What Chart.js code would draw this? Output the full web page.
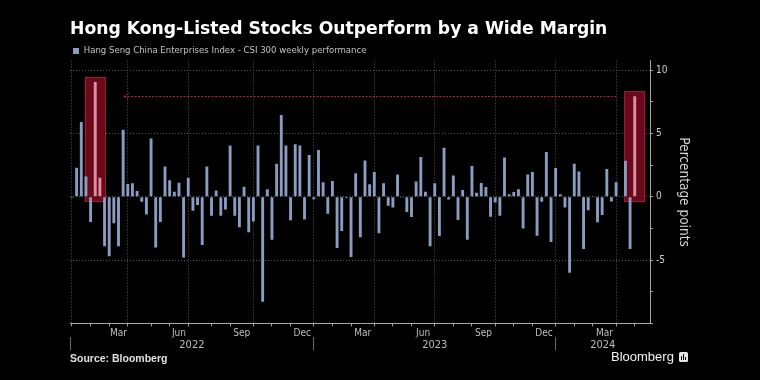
<!DOCTYPE html>
<html>
<head>
<meta charset="utf-8">
<script src="https://cdn.jsdelivr.net/npm/chart.js@4.4.1/dist/chart.umd.min.js"></script>
<style>
  html, body { margin:0; padding:0; background:#000; }
  #box { position:relative; width:760px; height:380px; background:#000; }
  canvas { display:block; }
</style>
</head>
<body>
<div id="box"><canvas id="chart" width="760" height="380"></canvas></div>
<script>
// ---------------- data ----------------
const weeks = [
'2021-12-31',
'2022-01-07','2022-01-14','2022-01-21','2022-01-28',
'2022-02-04','2022-02-11','2022-02-18','2022-02-25',
'2022-03-04','2022-03-11','2022-03-18','2022-03-25',
'2022-04-01','2022-04-08','2022-04-15','2022-04-22','2022-04-29',
'2022-05-06','2022-05-13','2022-05-20','2022-05-27',
'2022-06-03','2022-06-10','2022-06-17','2022-06-24',
'2022-07-01','2022-07-08','2022-07-15','2022-07-22','2022-07-29',
'2022-08-05','2022-08-12','2022-08-19','2022-08-26',
'2022-09-02','2022-09-09','2022-09-16','2022-09-23','2022-09-30',
'2022-10-07','2022-10-14','2022-10-21','2022-10-28',
'2022-11-04','2022-11-11','2022-11-18','2022-11-25',
'2022-12-02','2022-12-09','2022-12-16','2022-12-23','2022-12-30',
'2023-01-06','2023-01-13','2023-01-20','2023-01-27',
'2023-02-03','2023-02-10','2023-02-17','2023-02-24',
'2023-03-03','2023-03-10','2023-03-17','2023-03-24','2023-03-31',
'2023-04-07','2023-04-14','2023-04-21','2023-04-28',
'2023-05-05','2023-05-12','2023-05-19','2023-05-26',
'2023-06-02','2023-06-09','2023-06-16','2023-06-23','2023-06-30',
'2023-07-07','2023-07-14','2023-07-21','2023-07-28',
'2023-08-04','2023-08-11','2023-08-18','2023-08-25',
'2023-09-01','2023-09-08','2023-09-15','2023-09-22','2023-09-29',
'2023-10-06','2023-10-13','2023-10-20','2023-10-27',
'2023-11-03','2023-11-10','2023-11-17','2023-11-24',
'2023-12-01','2023-12-08','2023-12-15','2023-12-22','2023-12-29',
'2024-01-05','2024-01-12','2024-01-19','2024-01-26',
'2024-02-02','2024-02-09','2024-02-16','2024-02-23',
'2024-03-01','2024-03-08','2024-03-15','2024-03-22','2024-03-29',
'2024-04-05','2024-04-12','2024-04-19','2024-04-26'
];
const spread = [
 -0.08, 2.3, 5.9, 1.6, -2.0, 9.07, 1.5, -3.9, -4.7, -2.1,
 -3.9, 5.3, 1.0, 1.06, 0.45, -0.4, -1.4, 4.6, -4.0, -2.0,
 2.4, 1.3, 0.4, 1.1, -4.8, 1.5, -1.1, -0.65, -3.8, 2.4,
 -1.5, 0.5, -1.5, -1.0, 4.05, -1.5, -2.4, 0.8, -2.8, -1.95,
 4.05, -8.3, 0.6, -3.4, 2.6, 6.45, 4.05, -1.85, 4.15, 4.05,
 -1.8, 3.3, -0.2, 3.7, 1.14, -1.35, 1.24, -4.05, -2.7, -0.1,
 -4.76, 1.85, -3.2, 2.86, 0.98, 1.96, -2.88, 1.07, -0.7, -0.85,
 1.76, -0.05, -1.2, -1.6, 1.2, 3.15, 0.4, -3.9, 1.07, -3.1,
 3.87, -0.22, 1.67, -1.84, 0.54, -3.4, 2.43, 0.32, 1.08, 0.77,
 -1.58, -0.46, -1.5, 3.1, 0.19, 0.37, 0.6, -2.5, 1.76, 1.96,
 -3.07, -0.4, 3.53, -3.57, 2.27, 0.19, -0.85, -6.0, 2.6, 1.99,
 -4.12, -1.07, 0.03, -2.02, -1.43, 2.2, -0.37, 1.14, 0.05, 2.85,
 -4.12, 7.94
];
const highlightWeeks = ['2022-02-04', '2024-04-26'];
const monthNames = ['Jan','Feb','Mar','Apr','May','Jun','Jul','Aug','Sep','Oct','Nov','Dec'];
const shownMonths = ['Mar','Jun','Sep','Dec'];
const years = ['2022','2023','2024'];
const yTicks = [-10,-7.5,-5,-2.5,0,2.5,5,7.5,10];
const yLabelled = [10,5,0,-5];
const axisStart = '2021-12-28';
const axisEnd = '2024-05-19';
const yMin = -10, yMax = 10.75;

// ---------------- helpers ----------------
const FONT = '"Liberation Sans", Arial, sans-serif';
const FONT_C = '"DejaVu Sans Condensed", "DejaVu Sans", sans-serif';
const FONT_T = '"DejaVu Sans", sans-serif';
const dayOf = s => Date.UTC(+s.slice(0,4), +s.slice(5,7)-1, +s.slice(8,10)) / 864e5;
const xMin = dayOf(axisStart), xMax = dayOf(axisEnd);
const hiDays = highlightWeeks.map(dayOf);
const points = weeks.map((w,i) => ({x: dayOf(w), y: spread[i]}));

// month boundaries = last weekly observation of each month
const monthEnds = [];
weeks.forEach((w,i) => {
  const n = weeks[i+1];
  if (!n || n.slice(0,7) !== w.slice(0,7)) monthEnds.push({v: dayOf(w), name: monthNames[+w.slice(5,7)-1]});
});
const xTickVals = [], xLabelAt = new Map(), xMarkAt = new Set(), xGridAt = new Set();
monthEnds.forEach((e,i) => {
  xTickVals.push(e.v); xMarkAt.add(e.v);
  if (shownMonths.includes(e.name)) xGridAt.add(e.v);
  if (i > 0 && shownMonths.includes(e.name)) {
    const c = (monthEnds[i-1].v + e.v) / 2;
    xTickVals.push(c); xLabelAt.set(c, e.name);
  }
});
xTickVals.sort((a,b) => a-b);

const decEnds = monthEnds.filter(e => e.name === 'Dec' && e.v > xMin + 7).map(e => e.v);
const yearStarts = [xMin].concat(decEnds);
const yearTickVals = [], yearLabelAt = new Map(), yearSepAt = new Set();
years.forEach((y,i) => {
  const s = yearStarts[i], e = (i+1 < yearStarts.length) ? yearStarts[i+1] : xMax;
  yearSepAt.add(s); yearTickVals.push(s);
  const c = (s + e) / 2; yearTickVals.push(c); yearLabelAt.set(c, y);
});

const GRID = '#575757';
const CLEAR = 'rgba(0,0,0,0)';
const BAR = '#8b9cc0';
const PINK = '#dc8fa6';

function barColor(ctx) {
  if (ctx.type !== 'data' || !ctx.raw) return BAR;
  const r = ctx.raw;
  return (r.y > 0 && hiDays.some(d => Math.abs(r.x - d) <= 7)) ? PINK : BAR;
}

const bgPlugin = {
  id: 'bg',
  beforeDraw(chart) { const c = chart.ctx; c.save(); c.fillStyle = '#000'; c.fillRect(0,0,chart.width,chart.height); c.restore(); }
};

const highlightPlugin = {
  id: 'highlight',
  beforeDatasetsDraw(chart) {
    const {ctx, scales:{x, y}} = chart;
    ctx.save();
    hiDays.forEach((d,k) => {
      const v = spread[weeks.indexOf(highlightWeeks[k])];
      const l = x.getPixelForValue(d - 16), r = x.getPixelForValue(d + 16);
      const t = y.getPixelForValue(v + 0.4), b = y.getPixelForValue(-0.42);
      ctx.fillStyle = '#6a0a1a';
      ctx.fillRect(l, t, r - l, b - t);
      ctx.setLineDash([1,1]); ctx.strokeStyle = '#c23448'; ctx.lineWidth = 1;
      ctx.strokeRect(Math.round(l)+0.5, Math.round(t)+0.5, Math.round(r-l)-1, Math.round(b-t)-1);
      ctx.setLineDash([]);
    });
    ctx.restore();
  },
  afterDatasetsDraw(chart) {
    const {ctx, scales:{x, y}} = chart;
    const last = spread[weeks.indexOf(highlightWeeks[1])];
    const xr = x.getPixelForValue(hiDays[1] - 28);
    const xl = x.getPixelForValue(hiDays[0] + 43);
    const ya = Math.round(y.getPixelForValue(last)) + 0.5;
    ctx.save();
    ctx.strokeStyle = '#c42234'; ctx.lineWidth = 1; ctx.setLineDash([2,1.5]);
    ctx.beginPath(); ctx.moveTo(xr, ya); ctx.lineTo(xl, ya); ctx.stroke();
    ctx.setLineDash([1.5,1]);
    ctx.beginPath(); ctx.moveTo(xl + 5, ya - 3.5); ctx.lineTo(xl, ya); ctx.lineTo(xl + 5, ya + 3.5); ctx.stroke();
    ctx.restore();
  }
};

const logoPlugin = {
  id: 'logo',
  afterDraw(chart) {
    const c = chart.ctx;
    c.save();
    c.fillStyle = '#f2f2f2'; c.font = '13px ' + FONT; c.textBaseline = 'middle'; c.textAlign = 'left';
    c.fillText('Bloomberg', 611, 357);
    c.fillStyle = '#e6e6e6';
    c.beginPath(); c.roundRect(679, 352, 9, 10, 1.5); c.fill();
    c.fillStyle = '#000';
    c.fillRect(681, 356, 1, 4); c.fillRect(683, 354, 1, 6); c.fillRect(685, 357, 1, 3);
    c.restore();
  }
};

new Chart(document.getElementById('chart'), {
  type: 'bar',
  data: {
    datasets: [{
      label: 'Hang Seng China Enterprises Index - CSI 300 weekly performance',
      data: points,
      backgroundColor: barColor,
      borderWidth: 0,
      barPercentage: 0.62,
      categoryPercentage: 1
    }]
  },
  options: {
    responsive: false,
    animation: false,
    devicePixelRatio: 1,
    layout: { padding: { top: 19, left: 70, right: 68, bottom: 14 } },
    plugins: {
      title: {
        display: true, align: 'start', color: '#ffffff',
        text: 'Hong Kong-Listed Stocks Outperform by a Wide Margin',
        font: { family: FONT_T, size: 17.2, weight: 'bold', lineHeight: 1.2 },
        padding: { top: 0, bottom: 3.5 }
      },
      legend: {
        display: true, align: 'start', maxHeight: 17.5,
        labels: { boxWidth: 6, boxHeight: 6, padding: 3, color: '#c4c4c4', font: { family: FONT_C, size: 9.5 } }
      },
      subtitle: {
        display: true, position: 'bottom', align: 'start', color: '#e0e0e0',
        text: 'Source: Bloomberg',
        font: { family: FONT, size: 10.5, weight: 'bold', lineHeight: 1.2 },
        padding: { top: 1, bottom: 1 }
      },
      tooltip: { enabled: false }
    },
    scales: {
      x: {
        type: 'linear', min: xMin, max: xMax, offset: false, weight: 0,
        afterBuildTicks: s => { s.ticks = xTickVals.map(v => ({ value: v })); },
        afterFit: s => { s.height = 14; },
        ticks: {
          autoSkip: false, maxRotation: 0, minRotation: 0, padding: 1,
          color: '#bdbdbd', font: { family: FONT_C, size: 10 },
          callback: v => xLabelAt.get(v) || ''
        },
        grid: {
          offset: false, drawOnChartArea: true, drawTicks: true, tickLength: 3, lineWidth: 1,
          color: c => (c.tick && xGridAt.has(c.tick.value)) ? GRID : CLEAR,
          tickColor: c => (c.tick && xMarkAt.has(c.tick.value)) ? '#9a9a9a' : CLEAR
        },
        border: { display: true, color: '#a8a8a8', width: 1, dash: [1,2] }
      },
      x2: {
        type: 'linear', axis: 'x', position: 'bottom', min: xMin, max: xMax, offset: false, weight: 1,
        afterBuildTicks: s => { s.ticks = yearTickVals.map(v => ({ value: v })); },
        afterFit: s => { s.height = 14; },
        ticks: {
          autoSkip: false, maxRotation: 0, minRotation: 0, padding: -12,
          color: '#bdbdbd', font: { family: FONT_C, size: 11 },
          callback: v => yearLabelAt.get(v) || ''
        },
        grid: {
          offset: false, drawOnChartArea: false, drawTicks: true, tickLength: 13,
          tickColor: c => (c.tick && yearSepAt.has(c.tick.value)) ? '#6a6a6a' : CLEAR
        },
        border: { display: false }
      },
      y: {
        position: 'right', min: yMin, max: yMax,
        afterBuildTicks: s => { s.ticks = yTicks.map(v => ({ value: v })); },
        afterFit: s => { s.width = 42; },
        ticks: {
          autoSkip: false, padding: 3, color: '#cfcfcf', font: { family: FONT_C, size: 10 },
          callback: v => yLabelled.includes(v) ? String(v) : ''
        },
        grid: {
          drawTicks: true, tickLength: 3,
          color: c => (c.tick && yLabelled.includes(c.tick.value)) ? GRID : CLEAR,
          tickColor: '#9a9a9a'
        },
        border: { display: true, color: '#a8a8a8', width: 1, dash: [1,2] },
        title: {
          display: true, text: 'Percentage points', color: '#d4d4d4',
          font: { family: FONT_C, size: 13.5 }, padding: { top: 0, bottom: 0 }
        }
      }
    }
  },
  plugins: [bgPlugin, highlightPlugin, logoPlugin]
});
</script>
</body>
</html>
